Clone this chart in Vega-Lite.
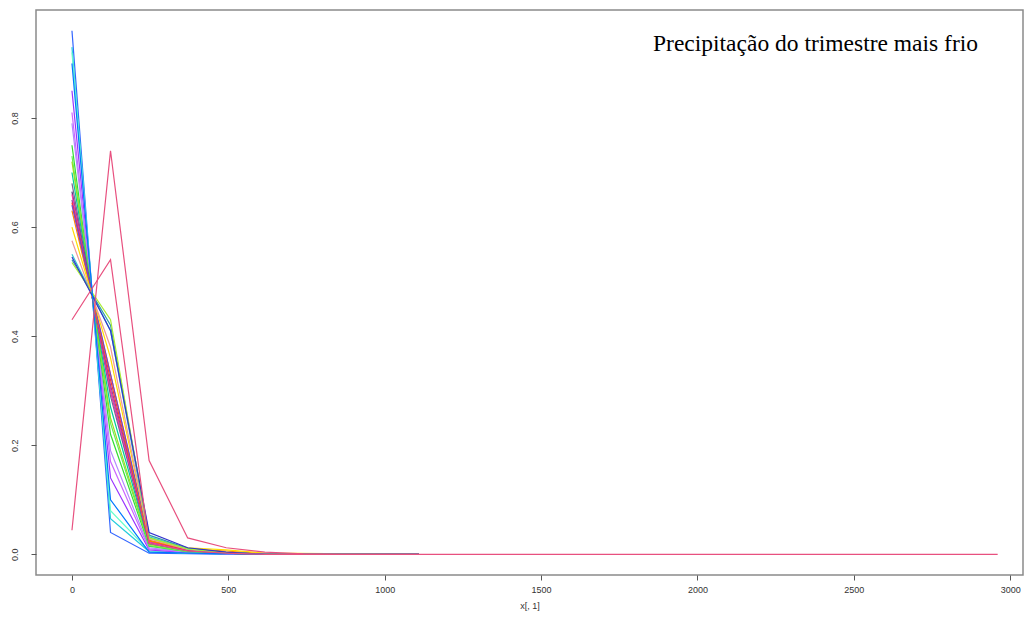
{
  "$schema": "https://vega.github.io/schema/vega-lite/v6.json",
  "width": 987,
  "height": 565,
  "autosize": {"type": "none"},
  "padding": {"left": 36, "top": 10, "right": 13, "bottom": 48},
  "background": "white",
  "title": {"text": "Precipitação do trimestre mais frio", "anchor": "end", "orient": "top", "offset": -45, "dx": -45, "font": "Liberation Serif", "fontSize": 23.5, "fontWeight": "normal", "color": "#000000"},
  "config": {"view": {"stroke": "#8a8a8a", "strokeWidth": 1.5}},
  "data": {"values": [
    {"s":"L01","x":0,"y":0.96},{"s":"L01","x":123.3,"y":0.04},{"s":"L01","x":246.7,"y":0.002},{"s":"L01","x":370,"y":0.001},{"s":"L01","x":493.3,"y":0},{"s":"L01","x":1110,"y":0},
    {"s":"L02","x":0,"y":0.93},{"s":"L02","x":123.3,"y":0.065},{"s":"L02","x":246.7,"y":0.005},{"s":"L02","x":370,"y":0.002},{"s":"L02","x":493.3,"y":0.001},{"s":"L02","x":616.7,"y":0},{"s":"L02","x":1110,"y":0},
    {"s":"L03","x":0,"y":0.92},{"s":"L03","x":123.3,"y":0.08},{"s":"L03","x":246.7,"y":0.006},{"s":"L03","x":370,"y":0.002},{"s":"L03","x":493.3,"y":0.001},{"s":"L03","x":616.7,"y":0},{"s":"L03","x":1110,"y":0},
    {"s":"L04","x":0,"y":0.85},{"s":"L04","x":123.3,"y":0.14},{"s":"L04","x":246.7,"y":0.008},{"s":"L04","x":370,"y":0.003},{"s":"L04","x":493.3,"y":0.001},{"s":"L04","x":616.7,"y":0},{"s":"L04","x":1110,"y":0},
    {"s":"L05","x":0,"y":0.81},{"s":"L05","x":123.3,"y":0.17},{"s":"L05","x":246.7,"y":0.01},{"s":"L05","x":370,"y":0.004},{"s":"L05","x":493.3,"y":0.001},{"s":"L05","x":616.7,"y":0},{"s":"L05","x":1110,"y":0},
    {"s":"L06","x":0,"y":0.79},{"s":"L06","x":123.3,"y":0.19},{"s":"L06","x":246.7,"y":0.012},{"s":"L06","x":370,"y":0.004},{"s":"L06","x":493.3,"y":0.001},{"s":"L06","x":616.7,"y":0},{"s":"L06","x":1110,"y":0},
    {"s":"L07","x":0,"y":0.75},{"s":"L07","x":123.3,"y":0.22},{"s":"L07","x":246.7,"y":0.015},{"s":"L07","x":370,"y":0.005},{"s":"L07","x":493.3,"y":0.002},{"s":"L07","x":616.7,"y":0},{"s":"L07","x":1110,"y":0},
    {"s":"L08","x":0,"y":0.73},{"s":"L08","x":123.3,"y":0.24},{"s":"L08","x":246.7,"y":0.016},{"s":"L08","x":370,"y":0.005},{"s":"L08","x":493.3,"y":0.002},{"s":"L08","x":616.7,"y":0},{"s":"L08","x":1110,"y":0},
    {"s":"L09","x":0,"y":0.72},{"s":"L09","x":123.3,"y":0.25},{"s":"L09","x":246.7,"y":0.018},{"s":"L09","x":370,"y":0.006},{"s":"L09","x":493.3,"y":0.002},{"s":"L09","x":616.7,"y":0},{"s":"L09","x":1110,"y":0},
    {"s":"L10","x":0,"y":0.70},{"s":"L10","x":123.3,"y":0.27},{"s":"L10","x":246.7,"y":0.02},{"s":"L10","x":370,"y":0.006},{"s":"L10","x":493.3,"y":0.002},{"s":"L10","x":616.7,"y":0},{"s":"L10","x":1110,"y":0},
    {"s":"L11","x":0,"y":0.68},{"s":"L11","x":123.3,"y":0.29},{"s":"L11","x":246.7,"y":0.02},{"s":"L11","x":370,"y":0.007},{"s":"L11","x":493.3,"y":0.002},{"s":"L11","x":616.7,"y":0},{"s":"L11","x":1110,"y":0},
    {"s":"L12","x":0,"y":0.665},{"s":"L12","x":123.3,"y":0.30},{"s":"L12","x":246.7,"y":0.022},{"s":"L12","x":370,"y":0.007},{"s":"L12","x":493.3,"y":0.002},{"s":"L12","x":616.7,"y":0},{"s":"L12","x":1110,"y":0},
    {"s":"L13","x":0,"y":0.66},{"s":"L13","x":123.3,"y":0.30},{"s":"L13","x":246.7,"y":0.022},{"s":"L13","x":370,"y":0.007},{"s":"L13","x":493.3,"y":0.002},{"s":"L13","x":616.7,"y":0},{"s":"L13","x":1110,"y":0},
    {"s":"L14","x":0,"y":0.65},{"s":"L14","x":123.3,"y":0.31},{"s":"L14","x":246.7,"y":0.025},{"s":"L14","x":370,"y":0.008},{"s":"L14","x":493.3,"y":0.003},{"s":"L14","x":616.7,"y":0},{"s":"L14","x":1110,"y":0},
    {"s":"L15","x":0,"y":0.645},{"s":"L15","x":123.3,"y":0.32},{"s":"L15","x":246.7,"y":0.025},{"s":"L15","x":370,"y":0.008},{"s":"L15","x":493.3,"y":0.003},{"s":"L15","x":616.7,"y":0},{"s":"L15","x":1110,"y":0},
    {"s":"L16","x":0,"y":0.63},{"s":"L16","x":123.3,"y":0.33},{"s":"L16","x":246.7,"y":0.025},{"s":"L16","x":370,"y":0.01},{"s":"L16","x":493.3,"y":0.006},{"s":"L16","x":616.7,"y":0.001},{"s":"L16","x":1110,"y":0},
    {"s":"L17","x":0,"y":0.64},{"s":"L17","x":123.3,"y":0.33},{"s":"L17","x":246.7,"y":0.03},{"s":"L17","x":370,"y":0.009},{"s":"L17","x":493.3,"y":0.003},{"s":"L17","x":616.7,"y":0},{"s":"L17","x":1110,"y":0},
    {"s":"L18","x":0,"y":0.60},{"s":"L18","x":123.3,"y":0.36},{"s":"L18","x":246.7,"y":0.03},{"s":"L18","x":370,"y":0.012},{"s":"L18","x":493.3,"y":0.008},{"s":"L18","x":616.7,"y":0.002},{"s":"L18","x":1110,"y":0},
    {"s":"L19","x":0,"y":0.575},{"s":"L19","x":123.3,"y":0.38},{"s":"L19","x":246.7,"y":0.028},{"s":"L19","x":370,"y":0.009},{"s":"L19","x":493.3,"y":0.003},{"s":"L19","x":616.7,"y":0},{"s":"L19","x":1110,"y":0},
    {"s":"L20","x":0,"y":0.55},{"s":"L20","x":123.3,"y":0.41},{"s":"L20","x":246.7,"y":0.032},{"s":"L20","x":370,"y":0.01},{"s":"L20","x":493.3,"y":0.003},{"s":"L20","x":616.7,"y":0},{"s":"L20","x":1110,"y":0},
    {"s":"L21","x":0,"y":0.54},{"s":"L21","x":123.3,"y":0.42},{"s":"L21","x":246.7,"y":0.035},{"s":"L21","x":370,"y":0.011},{"s":"L21","x":493.3,"y":0.003},{"s":"L21","x":616.7,"y":0},{"s":"L21","x":1110,"y":0},
    {"s":"L22","x":0,"y":0.535},{"s":"L22","x":123.3,"y":0.43},{"s":"L22","x":246.7,"y":0.03},{"s":"L22","x":370,"y":0.01},{"s":"L22","x":493.3,"y":0.003},{"s":"L22","x":616.7,"y":0},{"s":"L22","x":1110,"y":0},
    {"s":"L23","x":0,"y":0.545},{"s":"L23","x":123.3,"y":0.41},{"s":"L23","x":246.7,"y":0.04},{"s":"L23","x":370,"y":0.012},{"s":"L23","x":493.3,"y":0.004},{"s":"L23","x":616.7,"y":0},{"s":"L23","x":1110,"y":0},
    {"s":"L24","x":0,"y":0.90},{"s":"L24","x":123.3,"y":0.10},{"s":"L24","x":246.7,"y":0.004},{"s":"L24","x":370,"y":0.002},{"s":"L24","x":493.3,"y":0.001},{"s":"L24","x":616.7,"y":0},{"s":"L24","x":1110,"y":0},
    {"s":"L25","x":0,"y":0.43},{"s":"L25","x":123.3,"y":0.54},{"s":"L25","x":246.7,"y":0.02},{"s":"L25","x":370,"y":0.006},{"s":"L25","x":493.3,"y":0.002},{"s":"L25","x":616.7,"y":0},{"s":"L25","x":1110,"y":0},
    {"s":"L26","x":0,"y":0.044},{"s":"L26","x":123.3,"y":0.74},{"s":"L26","x":246.7,"y":0.172},{"s":"L26","x":370,"y":0.03},{"s":"L26","x":493.3,"y":0.012},{"s":"L26","x":616.7,"y":0.004},{"s":"L26","x":740,"y":0.001},{"s":"L26","x":863.3,"y":0},{"s":"L26","x":2960,"y":0}
  ]},
  "mark": {"type": "line", "strokeWidth": 1.2, "clip": true},
  "encoding": {
    "x": {"field": "x", "type": "quantitative",
      "scale": {"domain": [-115, 3041], "nice": false, "zero": false},
      "axis": {"values": [0, 500, 1000, 1500, 2000, 2500, 3000], "format": "d", "domain": false, "grid": false, "tickSize": 5, "tickColor": "#555", "labelFont": "Liberation Sans", "labelFontSize": 9, "labelColor": "#333", "labelPadding": 5, "title": "x[, 1]", "titleFont": "Liberation Sans", "titleFontSize": 9, "titleFontWeight": "normal", "titleColor": "#333", "titlePadding": 7}},
    "y": {"field": "y", "type": "quantitative",
      "scale": {"domain": [-0.038, 0.998], "nice": false, "zero": false},
      "axis": {"values": [0, 0.2, 0.4, 0.6, 0.8], "format": ".1f", "domain": false, "grid": false, "tickSize": 5, "tickColor": "#555", "labelFont": "Liberation Sans", "labelFontSize": 9, "labelColor": "#333", "labelAngle": -90, "labelAlign": "center", "labelBaseline": "bottom", "labelPadding": 12, "title": null}},
    "color": {"field": "s", "type": "nominal", "legend": null,
      "scale": {"domain": ["L01","L02","L03","L04","L05","L06","L07","L08","L09","L10","L11","L12","L13","L14","L15","L16","L17","L18","L19","L20","L21","L22","L23","L24","L25","L26"],
        "range": ["#3366FF","#22CCDD","#66FFCC","#9933FF","#CC66FF","#B388FF","#33DD33","#66EE55","#99DD22","#00CC99","#776699","#553377","#FF33AA","#994499","#FF3333","#FF8800","#7744CC","#FFDD00","#EE9999","#33CCCC","#3399AA","#AAEE33","#3333CC","#0077FF","#E8507F","#E8507F"]}}
  }
}
